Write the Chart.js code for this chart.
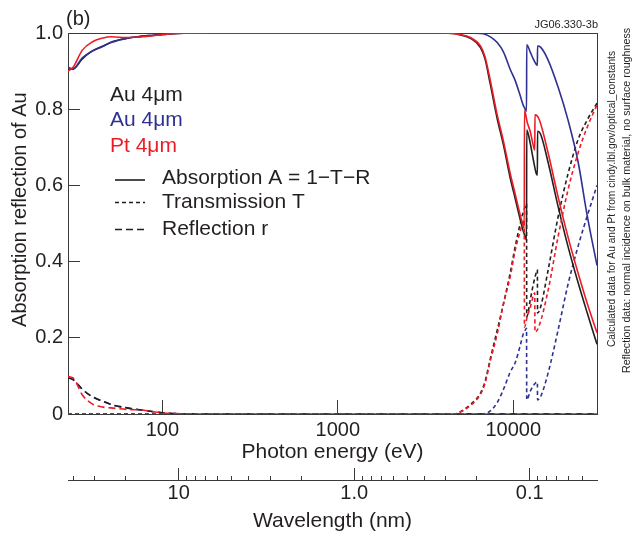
<!DOCTYPE html>
<html>
<head>
<meta charset="utf-8">
<script src="https://cdn.jsdelivr.net/npm/chart.js@4.4.1/dist/chart.umd.min.js"></script>
<style>
html,body{margin:0;padding:0;background:#ffffff;}
canvas{display:block;}
</style>
</head>
<body>
<canvas id="c" width="638" height="536"></canvas>
<script>
// ---------------- DATA ----------------
// Photon energies (eV) for the Au curves
const energyAu = [29, 31, 35, 39, 46, 51, 63, 72, 89, 100,
  120, 200, 500, 1000, 2000, 3000, 4000, 4550, 4800, 5700,
  6500, 6900, 7400, 8100, 8800, 9600, 10260, 10960, 11400, 11700,
  11900, 11930, 12500, 13000, 13500, 13720, 13750, 14300, 15800, 18000,
  20500, 23400, 26400, 30000];

// Au (black) : absorption, transmission, reflection
const absAuBlack = [0.905, 0.905, 0.932, 0.95, 0.966, 0.976, 0.986, 0.99, 0.994, 0.996,
  0.999, 1, 1, 1, 1, 1, 1, 0.999, 0.997, 0.986,
  0.962, 0.932, 0.865, 0.775, 0.705, 0.62, 0.565, 0.51, 0.48, 0.465,
  0.457, 0.745, 0.71, 0.668, 0.632, 0.627, 0.742, 0.735, 0.66, 0.545,
  0.44, 0.345, 0.265, 0.183];
const transAuBlack = [0, 0, 0, 0, 0, 0, 0, 0, 0, 0,
  0, 0, 0, 0, 0, 0, 0, 0, 0.002, 0.025,
  0.055, 0.085, 0.145, 0.22, 0.29, 0.37, 0.44, 0.5, 0.53, 0.545,
  0.552, 0.255, 0.3, 0.34, 0.37, 0.378, 0.265, 0.28, 0.378, 0.517,
  0.63, 0.72, 0.772, 0.816];
const reflAuBlack = [0.095, 0.09, 0.065, 0.048, 0.033, 0.025, 0.016, 0.012, 0.006, 0.003,
  0.001, 0, 0, 0, 0, 0, 0, 0, 0, 0,
  0, 0, 0, 0, 0, 0, 0, 0, 0, 0,
  0, 0, 0, 0, 0, 0, 0, 0, 0, 0,
  0, 0, 0, 0];

// Au (blue)
const absAuBlue = [0.91, 0.906, 0.935, 0.95, 0.965, 0.975, 0.986, 0.99, 0.994, 0.996,
  0.999, 1, 1, 1, 1, 1, 1, 1, 1, 1,
  0.999, 0.997, 0.99, 0.975, 0.95, 0.905, 0.875, 0.835, 0.81, 0.8,
  0.795, 0.969, 0.95, 0.932, 0.918, 0.915, 0.966, 0.963, 0.929, 0.858,
  0.772, 0.662, 0.52, 0.39];
const transAuBlue = [0, 0, 0, 0, 0, 0, 0, 0, 0, 0,
  0, 0, 0, 0, 0, 0, 0, 0, 0, 0,
  0, 0.001, 0.008, 0.03, 0.065, 0.11, 0.135, 0.18, 0.21, 0.22,
  0.225, 0.037, 0.06, 0.074, 0.083, 0.084, 0.037, 0.045, 0.108, 0.22,
  0.34, 0.44, 0.52, 0.6];
const reflAuBlue = [0.095, 0.09, 0.065, 0.048, 0.033, 0.025, 0.016, 0.012, 0.006, 0.003,
  0.001, 0, 0, 0, 0, 0, 0, 0, 0, 0,
  0, 0, 0, 0, 0, 0, 0, 0, 0, 0,
  0, 0, 0, 0, 0, 0, 0, 0, 0, 0,
  0, 0, 0, 0];

// Photon energies (eV) for the Pt curves
const energyPt = [29, 31, 35, 40, 46, 51, 63, 78, 89, 100,
  120, 200, 500, 1000, 2000, 3000, 4000, 4550, 4800, 5700,
  6500, 6900, 7400, 8100, 8800, 9600, 10260, 10960, 11300, 11550,
  11580, 12000, 12500, 13000, 13260, 13290, 14000, 15800, 18000, 20500,
  23400, 26400, 30000];
const absPt = [0.9, 0.91, 0.955, 0.977, 0.987, 0.99, 0.988, 0.99, 0.993, 0.996,
  0.999, 1, 1, 1, 1, 1, 1, 0.999, 0.997, 0.988,
  0.966, 0.938, 0.875, 0.785, 0.715, 0.632, 0.577, 0.522, 0.5, 0.488,
  0.798, 0.766, 0.741, 0.705, 0.693, 0.785, 0.775, 0.685, 0.57, 0.465,
  0.37, 0.29, 0.213];
const transPt = [0, 0, 0, 0, 0, 0, 0, 0, 0, 0,
  0, 0, 0, 0, 0, 0, 0, 0, 0.002, 0.022,
  0.052, 0.08, 0.14, 0.21, 0.29, 0.36, 0.43, 0.48, 0.5, 0.51,
  0.228, 0.255, 0.28, 0.31, 0.318, 0.215, 0.23, 0.325, 0.465, 0.588,
  0.685, 0.753, 0.811];
const reflPt = [0.098, 0.095, 0.05, 0.026, 0.018, 0.016, 0.012, 0.01, 0.006, 0.003,
  0.001, 0, 0, 0, 0, 0, 0, 0, 0, 0,
  0, 0, 0, 0, 0, 0, 0, 0, 0, 0,
  0, 0, 0, 0, 0, 0, 0, 0, 0, 0,
  0, 0, 0];

// Axis ranges and ticks
const energyMin = 29, energyMax = 30000;
const energyTicks = [100, 1000, 10000];
const energyTickLabels = ['100', '1000', '10000'];
const hc = 1239.84; // eV*nm
const wavelengthMajorTicks = [10, 1, 0.1];
const wavelengthTickLabels = ['10', '1.0', '0.1'];
const wavelengthMinorTicks = [40, 30, 20, 9, 8, 7, 6, 5, 4, 3, 2,
  0.9, 0.8, 0.7, 0.6, 0.5, 0.4, 0.3, 0.2, 0.09, 0.08, 0.07, 0.06, 0.05];
const yTicks = [0, 0.2, 0.4, 0.6, 0.8, 1.0];
const yTickLabels = ['0', '0.2', '0.4', '0.6', '0.8', '1.0'];

// ---------------- STYLE ----------------
const FONT = "'Liberation Sans', Arial, Helvetica, sans-serif";
const INK = '#231f20';
const AXIS = '#3a3a3a';
const C_BLACK = '#231f20', C_BLUE = '#2e3192', C_RED = '#ed1c24';
const DASH_T = [4, 3], DASH_R = [7, 4];

function pts(xs, ys) { return xs.map((x, i) => ({x: x, y: ys[i]})); }
function ds(label, xs, ys, color, dash, order) {
  return {label, data: pts(xs, ys), borderColor: color, backgroundColor: color,
    borderWidth: 1.6, borderDash: dash, pointRadius: 0, fill: false,
    cubicInterpolationMode: 'monotone', order};
}

const datasets = [
  ds('Pt A', energyPt, absPt, C_RED, [], 0),
  ds('Pt T', energyPt, transPt, C_RED, DASH_T, 1),
  ds('Pt R', energyPt, reflPt, C_RED, DASH_R, 2),
  ds('Au blue A', energyAu, absAuBlue, C_BLUE, [], 3),
  ds('Au T', energyAu, transAuBlack, C_BLACK, DASH_T, 4),
  ds('Au R', energyAu, reflAuBlack, C_BLACK, DASH_R, 5),
  ds('Au A', energyAu, absAuBlack, C_BLACK, [], 6),
  ds('Au blue T', energyAu, transAuBlue, C_BLUE, DASH_T, 7),
  ds('Au blue R', energyAu, reflAuBlue, C_BLUE, DASH_R, 8)
];

const annotations = {
  id: 'annotations',
  afterDraw(chart) {
    const ctx = chart.ctx;
    ctx.save();
    ctx.fillStyle = INK;
    ctx.textBaseline = 'alphabetic';
    // panel letter
    ctx.font = '20px ' + FONT;
    ctx.textAlign = 'left';
    ctx.fillText('(b)', 66, 25);
    // figure id
    ctx.font = '11px ' + FONT;
    ctx.textAlign = 'right';
    ctx.fillText('JG06.330-3b', 598, 28);
    // material legend
    ctx.font = '21px ' + FONT;
    ctx.textAlign = 'left';
    ctx.fillStyle = C_BLACK; ctx.fillText('Au 4\u03bcm', 110, 101);
    ctx.fillStyle = C_BLUE;  ctx.fillText('Au 4\u03bcm', 110, 126);
    ctx.fillStyle = C_RED;   ctx.fillText('Pt 4\u03bcm', 110, 152);
    // line style legend
    const rows = [
      {text: 'Absorption A = 1\u2212T\u2212R', dash: [], ly: 180, ty: 184},
      {text: 'Transmission T', dash: DASH_T, ly: 202.5, ty: 208},
      {text: 'Reflection r', dash: DASH_R, ly: 229.5, ty: 235}
    ];
    ctx.strokeStyle = C_BLACK;
    ctx.lineWidth = 1.6;
    ctx.fillStyle = INK;
    rows.forEach(r => {
      ctx.setLineDash(r.dash);
      ctx.beginPath();
      ctx.moveTo(115, r.ly);
      ctx.lineTo(145, r.ly);
      ctx.stroke();
      ctx.fillText(r.text, 162, r.ty);
    });
    ctx.setLineDash([]);
    // side notes
    ctx.textAlign = 'center';
    ctx.textBaseline = 'middle';
    ctx.fillStyle = INK;
    [['Calculated data for Au and Pt from cindy.lbl.gov/optical_constants', 612, 199, '10.2px '],
     ['Reflection data: normal incidence on bulk material, no surface roughness', 627, 200.5, '10.7px ']].forEach(([t, x, y, f]) => {
      ctx.save();
      ctx.font = f + FONT;
      ctx.translate(x, y);
      ctx.rotate(-Math.PI / 2);
      ctx.fillText(t, 0, 0);
      ctx.restore();
    });
    ctx.restore();
  }
};

const tickFont = {family: FONT, size: 20};
const titleFont = {family: FONT, size: 21};

new Chart(document.getElementById('c'), {
  type: 'line',
  data: {datasets},
  options: {
    responsive: false,
    animation: false,
    devicePixelRatio: 1,
    events: [],
    layout: {padding: {top: 33, right: 41, bottom: 0, left: 0}},
    plugins: {legend: {display: false}, tooltip: {enabled: false}},
    scales: {
      x: {
        type: 'logarithmic', position: 'bottom', weight: 1,
        min: energyMin, max: energyMax, bounds: 'data',
        afterBuildTicks: s => { s.ticks = energyTicks.map(v => ({value: v})); },
        afterFit: s => { s.height = 66; },
        ticks: {callback: (v, i) => energyTickLabels[i], font: tickFont, color: INK,
          padding: 18, autoSkip: false, maxRotation: 0},
        grid: {display: true, drawOnChartArea: false, drawTicks: true, tickLength: -14, color: AXIS, lineWidth: 1},
        border: {display: true, color: AXIS, width: 1},
        title: {display: true, text: 'Photon energy (eV)', font: titleFont, color: INK, padding: {top: 0, bottom: 15}}
      },
      xm: {
        type: 'logarithmic', position: 'bottom', weight: 2, reverse: true, display: true,
        min: hc / energyMax, max: hc / energyMin, bounds: 'data',
        afterBuildTicks: s => { s.ticks = wavelengthMinorTicks.map(v => ({value: v})); },
        afterFit: s => { s.height = 0; },
        ticks: {display: false},
        grid: {display: true, drawOnChartArea: false, drawTicks: true, tickLength: -4, color: AXIS, lineWidth: 1},
        border: {display: false},
        title: {display: false}
      },
      x2: {
        type: 'logarithmic', position: 'bottom', weight: 3, reverse: true, display: true,
        min: hc / energyMax, max: hc / energyMin, bounds: 'data',
        afterBuildTicks: s => { s.ticks = wavelengthMajorTicks.map(v => ({value: v})); },
        afterFit: s => { s.height = 56; },
        ticks: {callback: (v, i) => wavelengthTickLabels[i], font: tickFont, color: INK,
          padding: 13, autoSkip: false, maxRotation: 0},
        grid: {display: true, drawOnChartArea: false, drawTicks: true, tickLength: -12, color: AXIS, lineWidth: 1},
        border: {display: true, color: AXIS, width: 1},
        title: {display: true, text: 'Wavelength (nm)', font: titleFont, color: INK, padding: {top: 0, bottom: 2.5}}
      },
      y: {
        type: 'linear', position: 'left', min: 0, max: 1,
        afterBuildTicks: s => { s.ticks = yTicks.map(v => ({value: v})); },
        afterFit: s => { s.width = 68; },
        ticks: {callback: (v, i) => yTickLabels[i], font: tickFont, color: INK, padding: 17},
        grid: {display: true, drawOnChartArea: false, drawTicks: true, tickLength: -12, color: AXIS, lineWidth: 1},
        border: {display: true, color: AXIS, width: 1},
        title: {display: true, text: '\u00a0\u00a0\u00a0\u00a0\u00a0Absorption reflection of Au', font: {family: FONT, size: 20}, color: INK, padding: {top: 8, bottom: 0}}
      },
      xT: {
        type: 'linear', position: 'top', display: true, min: 0, max: 1,
        afterFit: s => { s.height = 0; },
        ticks: {display: false},
        grid: {display: true, drawOnChartArea: false, drawTicks: false},
        border: {display: true, color: AXIS, width: 1}
      },
      yR: {
        type: 'linear', position: 'right', display: true, min: 0, max: 1,
        afterFit: s => { s.width = 0; },
        ticks: {display: false},
        grid: {display: true, drawOnChartArea: false, drawTicks: false},
        border: {display: true, color: AXIS, width: 1}
      }
    }
  },
  plugins: [annotations]
});
</script>
</body>
</html>
